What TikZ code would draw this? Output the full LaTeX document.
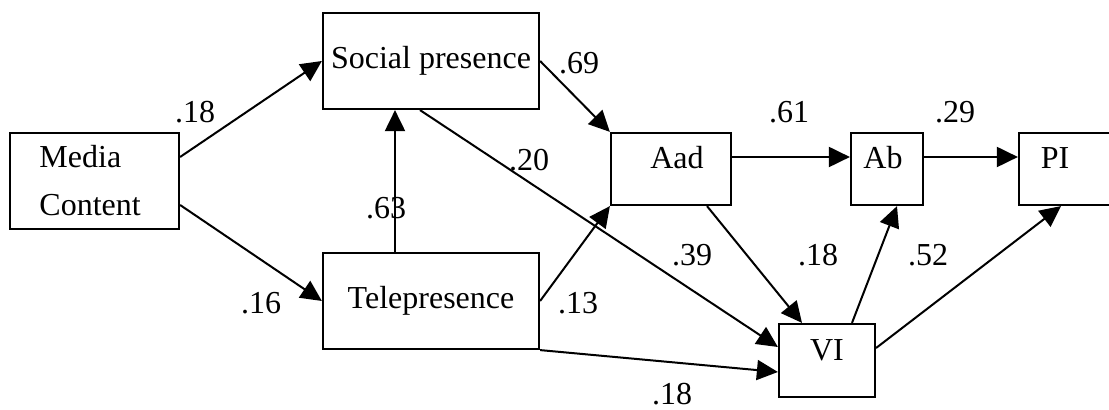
\documentclass[tikz,border=0pt]{standalone}
\usepackage{fontspec}
\setmainfont{Liberation Serif}
\usetikzlibrary{arrows.meta}

\begin{document}
\begin{tikzpicture}[x=0.5pt, y=-0.5pt, font=\fontsize{16pt}{24pt}\selectfont]
		\useasboundingbox (0,0) rectangle (1109,410);
		\begin{scope}[every node/.style={rectangle, draw, line width=1.1pt, inner sep=0pt}]
			\node[minimum width=84.5pt, minimum height=48pt, text width=55pt, align=left] (mc) at (94.5,181) {Media\\Content};
			\node[minimum width=108pt, minimum height=48pt, text height=0.75em, text depth=0pt] (sp) at (431,61) {Social presence};
			\node[minimum width=108pt, minimum height=48pt, text height=0.75em, text depth=0pt] (tp) at (431,301) {Telepresence};
			\node[minimum width=60pt, minimum height=36pt, text height=0.35em, text depth=0.35em] (aad) at (671,169) {\hspace*{6pt}Aad};
			\node[minimum width=36pt, minimum height=36pt, text height=0.35em, text depth=0.35em] (ab) at (887,169) {Ab\hspace*{4pt}};
			\node[minimum width=60pt, minimum height=36pt, text height=0.35em, text depth=0.35em] (pi) at (1079,169) {PI\hspace*{24pt}};
			\node[minimum width=48pt, minimum height=36.5pt, text height=0.35em, text depth=0.35em] (vi) at (827,360.5) {VI};
		\end{scope}
		\begin{scope}[every path/.style={line width=1pt, -{Triangle[length=10.5pt, width=10pt]}}]
			\path ([yshift=12pt]mc.east) edge (sp.west);
			\path ([yshift=-12pt]mc.east) edge (tp.west);
			\path ([xshift=-18pt]tp.north) edge ([xshift=-18pt]sp.south);
			\path ([xshift=-5.5pt]sp.south) edge ([yshift=6.75pt]vi.west);
			\path (sp.east) edge (aad.north west);
			\path (tp.east) edge (aad.south west);
			\path (tp.south east) edge ([yshift=-5.75pt]vi.west);
			\path ([yshift=6pt]aad.east) edge ([yshift=6pt]ab.west);
			\path ([yshift=6pt]ab.east) edge ([yshift=6pt]pi.west);
			\path ([xshift=18pt]aad.south) edge ([xshift=-12.5pt]vi.north);
			\path ([xshift=12.5pt]vi.north) edge ([xshift=5pt]ab.south);
			\path ([yshift=6.25pt]vi.east) edge ([xshift=-9pt]pi.south);
		\end{scope}
		\begin{scope}[every node/.style={inner sep=0pt}]
			\node (w-mc-sp) at (195,112) {.18};
			\node (w-mc-tp) at (261,303) {.16};
			\node (w-tp-sp) at (386,208) {.63};
			\node (w-sp-vi) at (529,160) {.20};
			\node (w-sp-aad) at (579,63) {.69};
			\node (w-tp-aad) at (578,303) {.13};
			\node (w-aad-ab) at (789,112) {.61};
			\node (w-ab-pi) at (955,112) {.29};
			\node (w-x-vi) at (692,255) {.39};
			\node (w-aad-vi) at (818,255) {.18};
			\node (w-vi-ab) at (928,255) {.52};
			\node (w-tp-vi) at (672,394) {.18};
		\end{scope}
	\end{tikzpicture}
\end{document}
